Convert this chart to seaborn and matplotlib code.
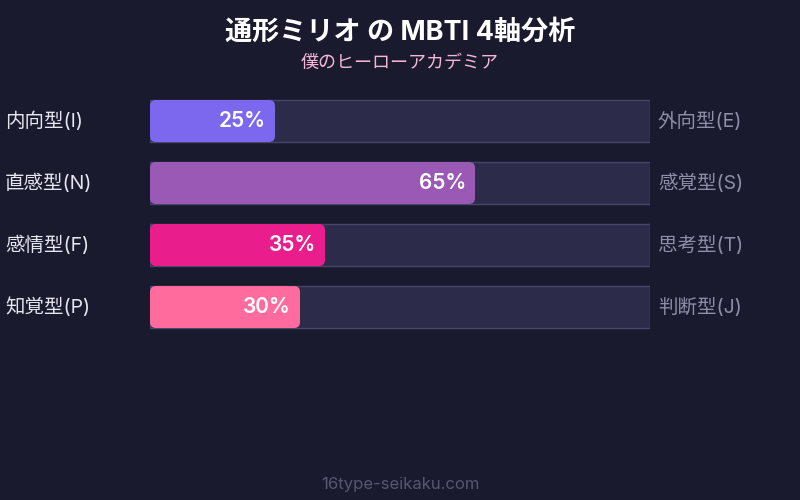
import pandas as pd
import matplotlib.pyplot as plt
import seaborn as sns
from matplotlib.patches import FancyBboxPatch

# --- データ ---
left_labels = ["内向型(I)", "直感型(N)", "感情型(F)", "知覚型(P)"]
right_labels = ["外向型(E)", "感覚型(S)", "思考型(T)", "判断型(J)"]
scores = [25, 65, 35, 30]
bar_colors = ["#7b68ee", "#9b59b6", "#e91e8c", "#ff6b9d"]

title = "通形ミリオ の MBTI 4軸分析"
subtitle = "僕のヒーローアカデミア"
footer = "16type-seikaku.com"

BG = "#1a1a2e"
TRACK = "#2d2b4a"
TRACK_EDGE = "#46466a"

sns.set_theme(style="dark")
plt.rcParams['font.family'] = ['Inter', 'Noto Sans CJK JP', 'DejaVu Sans']

df = pd.DataFrame({"axis": left_labels, "score": scores, "full": [100] * len(scores)})

fig = plt.figure(figsize=(8, 5), dpi=100, facecolor=BG)
ax = fig.add_axes([150 / 800, (500 - 338) / 500, 500 / 800, 248 / 500])
ax.set_facecolor(BG)

bar_w = 42 / 62

# 背景トラック
sns.barplot(data=df, y="axis", x="full", orient="h", color=TRACK, width=bar_w,
            edgecolor=TRACK_EDGE, linewidth=1, saturation=1, ax=ax)
n_track = len(ax.patches)

# スコアバー (一旦描いて角丸に置き換え)
sns.barplot(data=df, y="axis", x="score", orient="h", hue="axis",
            palette=bar_colors, width=bar_w, saturation=1, legend=False, ax=ax)

score_patches = ax.patches[n_track:]
for p, c in zip(list(score_patches), bar_colors):
    x0, y0, w, h = p.get_x(), p.get_y(), p.get_width(), p.get_height()
    p.remove()
    # 角丸: x方向 ~6px, y方向はアスペクト補正
    rx = 6 * 100 / 500
    ry = 6 * 4 / 248
    box = FancyBboxPatch((x0 + rx, y0 + ry), w - 2 * rx, h - 2 * ry,
                         boxstyle=f"round,pad={rx},rounding_size={rx}",
                         mutation_aspect=ry / rx,
                         facecolor=c, edgecolor="none", zorder=3)
    ax.add_patch(box)

ax.set_xlim(0, 100)
ax.set_ylim(3.5, -0.5)
ax.set_xlabel("")
ax.set_ylabel("")
ax.set_xticks([])
ax.set_yticks([])
for s in ax.spines.values():
    s.set_visible(False)

# パーセント表示
for i, v in enumerate(scores):
    ax.text(v - 1.8, i, f"{v}%", ha="right", va="center", color="white",
            fontsize=15, fontweight="semibold", zorder=4)

# 左右のラベル
for i, (l, r) in enumerate(zip(left_labels, right_labels)):
    y_px = 121 + 62 * i
    fig.text(5 / 800, 1 - y_px / 500, l, ha="left", va="center",
             color="#e6e6f0", fontsize=14)
    fig.text(658 / 800, 1 - y_px / 500, r, ha="left", va="center",
             color="#8e8ea8", fontsize=14)

# タイトル類
fig.text(0.5, 1 - 33 / 500, title, ha="center", va="center", color="white",
         fontsize=19.5, fontweight="bold")
fig.text(0.5, 1 - 63 / 500, subtitle, ha="center", va="center", color="#f4b6d6",
         fontsize=13)
fig.text(0.5, 1 - 484 / 500, footer, ha="center", va="center", color="#565670",
         fontsize=12)

fig.savefig("out.png", dpi=100, facecolor=BG)
